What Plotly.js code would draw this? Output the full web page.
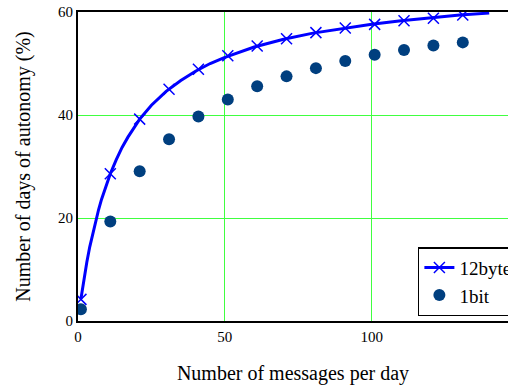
<!DOCTYPE html>
<html>
<head>
<meta charset="utf-8">
<script src="https://cdn.plot.ly/plotly-3.0.1.min.js"></script>
</head>
<body style="margin:0;background:#fff">
<div id="chart" style="width:508px;height:385px"></div>
<script>
// Markers
var markerX = [1, 11, 21, 31, 41, 51, 61, 71, 81, 91, 101, 111, 121, 131];
var byte12 = [4.2, 28.6, 39.2, 45.0, 48.9, 51.5, 53.4, 54.8, 56.0, 56.9, 57.6, 58.3, 58.8, 59.4];
var bit1 = [2.3, 19.3, 29.1, 35.3, 39.7, 43.0, 45.6, 47.5, 49.1, 50.5, 51.7, 52.6, 53.5, 54.1];
// Smooth 12byte curve
var curveX = [1, 2, 3, 4, 5, 6, 7, 8, 9, 10, 11, 13, 15, 17, 19, 21, 25, 30, 35, 40, 45, 50, 60, 70, 80, 90, 100, 110, 120, 130, 140];
var curveY = [4.3, 8.1, 11.4, 14.4, 17.0, 19.4, 21.6, 23.6, 25.4, 27.1, 28.6, 31.3, 33.7, 35.7, 37.5, 39.2, 41.9, 44.6, 46.7, 48.5, 50.0, 51.2, 53.2, 54.7, 55.9, 56.8, 57.6, 58.3, 58.9, 59.4, 59.8];
var xTicks = [0, 50, 100];
var yTicks = [0, 20, 40, 60];

var serif = 'Liberation Serif';
var xMark = {symbol: 'x-thin-open', size: 11, color: '#0000ff', line: {color: '#0000ff', width: 1.5}};
var dotMark = {symbol: 'circle', size: 12, color: '#003f7f'};
var traces = [
  {x: curveX, y: curveY, mode: 'lines', line: {color: '#0000ff', width: 3}, showlegend: false, hoverinfo: 'skip'},
  {x: markerX, y: byte12, mode: 'markers', marker: xMark, showlegend: false},
  {x: markerX, y: bit1, mode: 'markers', marker: dotMark, showlegend: false},
  {x: [null], y: [null], mode: 'lines+markers', name: '12byte', line: {color: '#0000ff', width: 3}, marker: xMark},
  {x: [null], y: [null], mode: 'markers', name: '1bit', marker: dotMark}
];
var layout = {
  width: 508, height: 385,
  margin: {l: 78, r: 0, t: 12, b: 64, autoexpand: false},
  paper_bgcolor: '#fff', plot_bgcolor: '#fff',
  font: {family: serif, color: '#000', size: 14},
  showlegend: true,
  legend: {x: 1.023, xanchor: 'right', y: 0.016, yanchor: 'bottom', bordercolor: '#000', borderwidth: 1.5, bgcolor: '#fff', font: {family: serif, size: 19, color: '#000'}, tracegroupgap: 0},
  xaxis: {
    range: [0, 146.4], tickvals: xTicks, ticktext: xTicks.map(String),
    showgrid: true, gridcolor: '#40ff40', gridwidth: 1,
    showline: true, linecolor: '#000', linewidth: 2, mirror: true,
    zeroline: false, ticks: '', ticklabelstandoff: 1, automargin: false,
    tickfont: {family: serif, size: 15},
    title: {text: 'Number of messages per day', font: {family: serif, size: 20}, standoff: 22}
  },
  yaxis: {
    range: [0, 60], tickvals: yTicks, ticktext: yTicks.map(String),
    showgrid: true, gridcolor: '#40ff40', gridwidth: 1,
    showline: true, linecolor: '#000', linewidth: 2,
    zeroline: false, ticks: '', automargin: false,
    tickfont: {family: serif, size: 15},
    title: {text: 'Number of days of autonomy (%)', font: {family: serif, size: 20}, standoff: 22}
  }
};
Plotly.newPlot('chart', traces, layout, {displayModeBar: false}).then(function () {
  var texts = document.querySelectorAll('#chart text');
  for (var i = 0; i < texts.length; i++) {
    texts[i].style.setProperty('font-family', "'Liberation Serif', serif", 'important');
  }
});
</script>
</body>
</html>
